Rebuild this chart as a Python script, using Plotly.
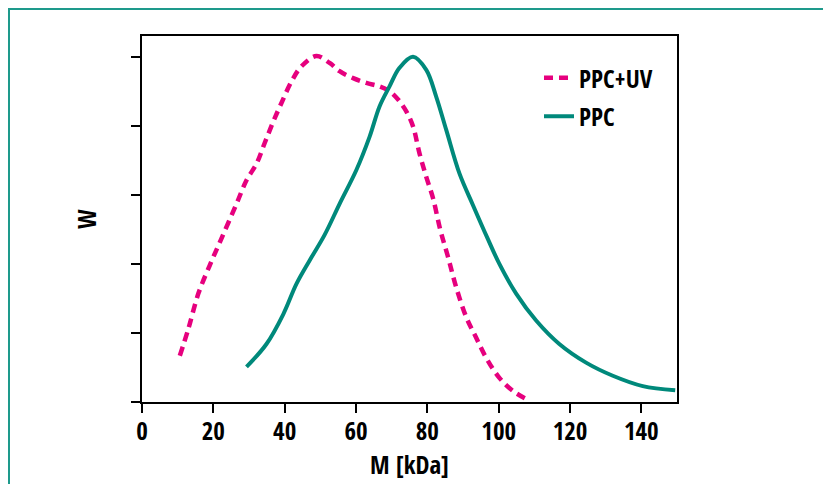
import plotly.graph_objects as go

# PPC+UV (dashed magenta)
uv_x = [10.6, 13.0, 15.8, 19.0, 22.3, 26.5, 29.3, 32.1, 34.4, 36.8, 39.1, 41.9, 44.7, 48.9,
        52.6, 55.4, 59.2, 62.9, 66.6, 69.4, 71.8, 74.1, 76.0, 77.8, 79.7, 81.6, 83.6,
        85.8, 88.1, 90.9, 93.7, 96.5, 100.2, 104.0, 108.6]
uv_y = [0.67, 1.06, 1.57, 1.98, 2.37, 2.87, 3.21, 3.45, 3.75, 4.06, 4.33, 4.64, 4.86, 5.01,
        4.91, 4.79, 4.69, 4.62, 4.57, 4.50, 4.38, 4.21, 3.99, 3.60, 3.26, 2.95, 2.50,
        2.10, 1.66, 1.23, 0.93, 0.64, 0.35, 0.16, 0.02]

# PPC (solid teal)
ppc_x = [29.3, 34.9, 39.6, 43.3, 47.0, 51.2, 55.4, 60.1, 63.8, 66.6, 69.4, 72.2, 76.0,
         79.7, 82.5, 85.3, 89.0, 92.8, 96.8, 100.2, 104.9, 110.5, 117.0, 124.5, 132.0,
         140.4, 149.5]
ppc_y = [0.51, 0.84, 1.27, 1.71, 2.05, 2.42, 2.87, 3.36, 3.84, 4.28, 4.57, 4.84, 5.00,
         4.81, 4.42, 3.94, 3.31, 2.85, 2.38, 2.00, 1.57, 1.18, 0.84, 0.57, 0.38,
         0.23, 0.17]

x_ticks = [0, 20, 40, 60, 80, 100, 120, 140]
y_ticks = [0, 1, 2, 3, 4, 5]

MAGENTA = "#E6007E"
TEAL = "#00897B"
FONT = "Open Sans Condensed, Roboto Condensed, sans-serif"
FS = 25

fig = go.Figure()
fig.add_trace(go.Scatter(x=uv_x, y=uv_y, mode="lines", name="<b>PPC+UV</b>",
                         legendgroup="a",
                         line=dict(color=MAGENTA, width=4.5, dash="9px,6px",
                                   shape="spline", smoothing=1.0)))
fig.add_trace(go.Scatter(x=ppc_x, y=ppc_y, mode="lines", name="<b>PPC</b>",
                         legendgroup="b",
                         line=dict(color=TEAL, width=4, shape="spline", smoothing=1.0)))

# figure is placed 8px into the page by the body margin
W, H = 823, 476
L, R, T, B = 134, 154, 28, 82
pw, ph = W - L - R, H - T - B

def px(xp):
    return (xp - L) / pw

def py(yp):
    return (H - B - yp) / ph

fig.update_layout(
    width=W, height=H,
    margin=dict(l=L, r=R, t=T, b=B),
    paper_bgcolor="white", plot_bgcolor="white",
    font=dict(family=FONT, size=FS, color="black"),
    showlegend=True,
    legend=dict(x=px(531), y=py(47), xanchor="left", yanchor="top",
                bgcolor="rgba(0,0,0,0)", font=dict(family=FONT, size=FS),
                traceorder="grouped", tracegroupgap=3),
    xaxis=dict(range=[0, 150], tickvals=x_ticks, ticktext=[f"<b>{v}</b>" for v in x_ticks],
               showgrid=False, zeroline=False, showline=True, linecolor="black",
               linewidth=1.5, mirror=True, ticks="outside", ticklen=9, tickwidth=1.5,
               tickcolor="black", tickfont=dict(family=FONT, size=FS),
               ticklabelstandoff=-3,
               title=dict(text="<b>M [kDa]</b>", font=dict(family=FONT, size=FS), standoff=8)),
    yaxis=dict(range=[0, 5.3], tickvals=y_ticks, showticklabels=False,
               showgrid=False, zeroline=False, showline=True, linecolor="black",
               linewidth=1.5, mirror=True, ticks="outside", ticklen=9, tickwidth=1.5,
               tickcolor="black",
               title=dict(text="<b>W</b>", font=dict(family=FONT, size=FS), standoff=28)),
    shapes=[dict(type="rect", xref="paper", yref="paper",
                 x0=px(1), x1=px(820), y0=py(490), y1=py(1),
                 line=dict(color="#1E9A8C", width=2), fillcolor="rgba(0,0,0,0)",
                 layer="above")],
)

fig.write_html("out.html")
